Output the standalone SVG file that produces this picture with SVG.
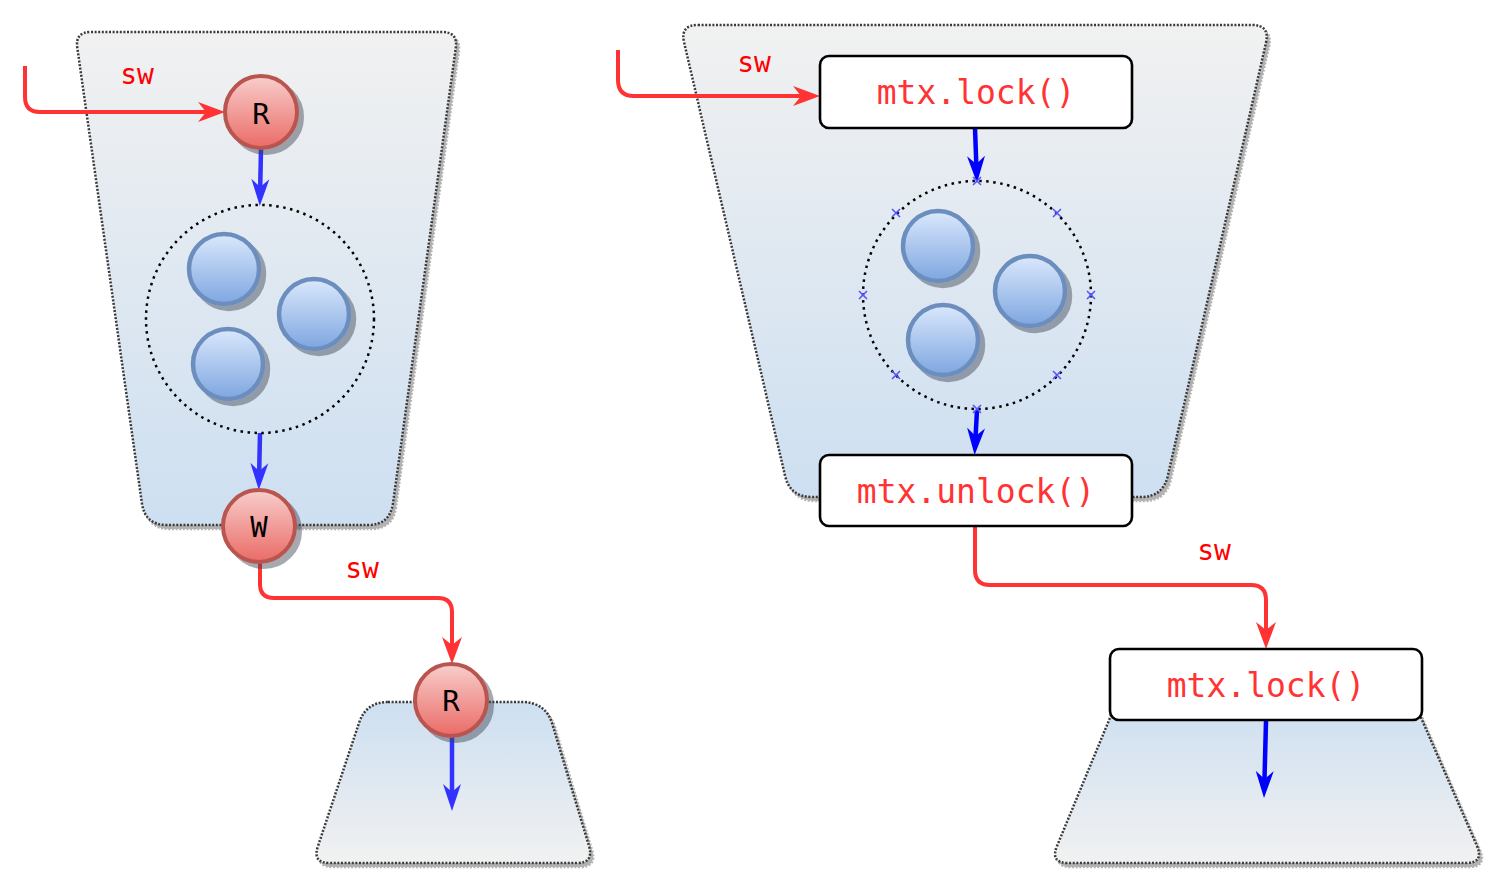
<svg xmlns="http://www.w3.org/2000/svg" width="1504" height="892" viewBox="0 0 1504 892">
<defs>
<style>
.trap{stroke:#3a3a3a;stroke-width:2.5;stroke-dasharray:2 1.6;filter:url(#tsh)}
.rnode{fill:url(#gRed);stroke:#b85450;stroke-width:4;filter:url(#nsh)}
.bnode{fill:url(#gBlue);stroke:#6c8ebf;stroke-width:4.5;filter:url(#nsh)}
.ring{fill:none;stroke:#000;stroke-width:2.5;stroke-dasharray:2.5 4.5}
.box{fill:#fff;stroke:#000;stroke-width:2.6}
.lbl{font-family:"DejaVu Sans Mono","Liberation Mono",monospace;text-anchor:middle}
.sw{font-size:28px;fill:#ff0000}
.code{font-size:33px;fill:#ff3333}
.rw{font-size:29px;fill:#000}
.red{fill:none;stroke:#ff3333;stroke-width:4}
.blue1{fill:none;stroke:#3333ff;stroke-width:4.5}
.blue2{fill:none;stroke:#0000ff;stroke-width:4.5}
.xm{stroke:#5555ff;stroke-width:1.6;fill:none}
</style>
<linearGradient id="gRed" x1="0" y1="0" x2="0" y2="1"><stop offset="0" stop-color="#f8cecc"/><stop offset="1" stop-color="#ea6b66"/></linearGradient>
<linearGradient id="gBlue" x1="0" y1="0" x2="0" y2="1"><stop offset="0" stop-color="#dae8fc"/><stop offset="1" stop-color="#7ea6e0"/></linearGradient>
<linearGradient id="gTrapDown" x1="0" y1="0" x2="0" y2="1"><stop offset="0" stop-color="#f1f1f1"/><stop offset="1" stop-color="#cddff1"/></linearGradient>
<linearGradient id="gTrapUp" x1="0" y1="0" x2="0" y2="1"><stop offset="0" stop-color="#cddff1"/><stop offset="1" stop-color="#f1f1f1"/></linearGradient>
<filter id="nsh" x="-30%" y="-30%" width="170%" height="170%"><feDropShadow dx="5" dy="5" stdDeviation="0.6" flood-color="#3a4350" flood-opacity="0.45"/></filter>
<filter id="tsh" x="-10%" y="-10%" width="120%" height="120%"><feDropShadow dx="3" dy="4" stdDeviation="0.6" flood-color="#000" flood-opacity="0.3"/></filter>
<marker id="aRed" viewBox="0 -10 28 20" refX="8" refY="0" markerWidth="28" markerHeight="20" markerUnits="userSpaceOnUse" orient="auto"><path d="M0,-10 L27,0 L0,10 L8,0 Z" fill="#ff3333"/></marker>
<marker id="aBlue1" viewBox="0 -10 28 20" refX="8" refY="0" markerWidth="28" markerHeight="20" markerUnits="userSpaceOnUse" orient="auto"><path d="M0,-9 L27,0 L0,9 L8,0 Z" fill="#3333ff"/></marker>
<marker id="aBlue2" viewBox="0 -10 28 20" refX="8" refY="0" markerWidth="28" markerHeight="20" markerUnits="userSpaceOnUse" orient="auto"><path d="M0,-9 L27,0 L0,9 L8,0 Z" fill="#0000ff"/></marker>
</defs>
<rect width="1504" height="892" fill="#ffffff"/>

<g id="containers">
<path id="trapLeftTop" class="trap" fill="url(#gTrapDown)" d="M91,32 L442,32 Q458,32 455.8,47.8 L393,503.2 Q390,525 368,525 L167,525 Q145,525 141.9,503.2 L77.3,47.8 Q75,32 91,32 Z"/>
<path id="trapLeftBottom" class="trap" fill="url(#gTrapUp)" d="M388,702 L522,702 Q545,702 552,723 L589,846 Q594,863 577,863 L330,863 Q312,863 318,846 L359,723 Q366,702 388,702 Z"/>
<path id="trapRightTop" class="trap" fill="url(#gTrapDown)" d="M698,25 L1252,25 Q1270,25 1266,42.6 L1167.9,475.6 Q1163,497 1141,497 L812,497 Q790,497 785,475.6 L684.1,42.5 Q680,25 698,25 Z"/>
<path id="trapRightBottom" class="trap" fill="url(#gTrapUp)" d="M1130,700 L1400,700 Q1413,700 1419,713 L1477,846 Q1484,863 1466,863 L1068,863 Q1050,863 1057,846 L1112,713 Q1118,700 1130,700 Z"/>
</g>

<g id="connectors">
<path class="red" d="M25,66 L25,97 Q25,112 40,112 L206,112" marker-end="url(#aRed)"/>
<path class="blue1" d="M261,149 L260.2,187" marker-end="url(#aBlue1)"/>
<path class="blue1" d="M260,433 L259.2,471" marker-end="url(#aBlue1)"/>
<path class="red" d="M260,563 L260,584 Q260,598 274,598 L438,598 Q452,598 452,612 L452,645" marker-end="url(#aRed)"/>
<path class="blue1" d="M452,737 L452,792" marker-end="url(#aBlue1)"/>
<path class="red" d="M618,50 L618,80 Q618,96 634,96 L801,96" marker-end="url(#aRed)"/>
<path class="blue2" d="M975,128 L976.3,164" marker-end="url(#aBlue2)"/>
<path class="blue2" d="M977,410 L975.6,436" marker-end="url(#aBlue2)"/>
<path class="red" d="M975,527 L975,570 Q975,585 990,585 L1251,585 Q1266,585 1266,600 L1266,630" marker-end="url(#aRed)"/>
<path class="blue2" d="M1266,721 L1264.5,779" marker-end="url(#aBlue2)"/>
</g>

<g id="labels">
<text class="lbl sw" x="137" y="84">sw</text>
<text class="lbl sw" x="362" y="578">sw</text>
<text class="lbl sw" x="754" y="72">sw</text>
<text class="lbl sw" x="1214" y="560">sw</text>
</g>

<g id="poolLeft">
<circle class="ring" cx="260" cy="319" r="114"/>
<circle class="bnode" cx="224" cy="269" r="35"/>
<circle class="bnode" cx="314" cy="314" r="35"/>
<circle class="bnode" cx="228" cy="364" r="35"/>
</g>

<g id="nodeR1"><circle class="rnode" cx="261" cy="112" r="36"/><text class="lbl rw" x="261" y="124">R</text></g>
<g id="nodeW"><circle class="rnode" cx="259" cy="526" r="36"/><text class="lbl rw" x="259" y="537">W</text></g>
<g id="nodeR2"><circle class="rnode" cx="451" cy="700" r="36"/><text class="lbl rw" x="451" y="711">R</text></g>

<g id="poolRight">
<circle class="ring" cx="977" cy="295" r="114"/>
<circle class="bnode" cx="938" cy="246" r="35"/>
<circle class="bnode" cx="1030" cy="291" r="35"/>
<circle class="bnode" cx="943" cy="340" r="35"/>
<path class="xm" d="M973,177 l8,8 m0,-8 l-8,8 M892,209 l8,8 m0,-8 l-8,8 M1053,209 l8,8 m0,-8 l-8,8 M859,291 l8,8 m0,-8 l-8,8 M1087,291 l8,8 m0,-8 l-8,8 M892,371 l8,8 m0,-8 l-8,8 M1053,371 l8,8 m0,-8 l-8,8 M973,405 l8,8 m0,-8 l-8,8"/>
</g>

<g id="lock1"><rect class="box" x="820" y="56" width="312" height="72" rx="9"/><text class="lbl code" x="976" y="104">mtx.lock()</text></g>
<g id="unlock"><rect class="box" x="820" y="455" width="312" height="71" rx="9"/><text class="lbl code" x="976" y="503">mtx.unlock()</text></g>
<g id="lock2"><rect class="box" x="1110" y="649" width="312" height="71" rx="9"/><text class="lbl code" x="1266" y="697">mtx.lock()</text></g>
</svg>
